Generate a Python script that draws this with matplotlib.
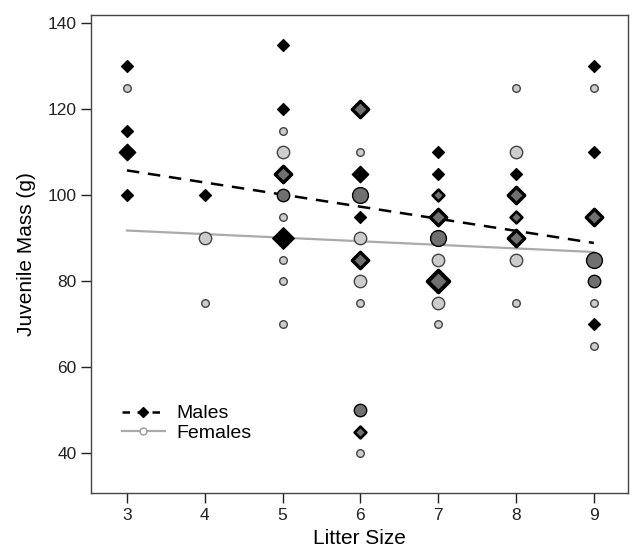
import matplotlib
matplotlib.use("Agg")
import matplotlib.pyplot as plt
from matplotlib.lines import Line2D

plt.rcParams["font.family"] = ["Liberation Sans", "DejaVu Sans"]

# litter size, juvenile mass (g), marker shape, size class, tone
litter = [3, 3, 3, 3, 3,
          4, 4, 4,
          5, 5, 5, 5, 5, 5, 5, 5, 5, 5, 5,
          6, 6, 6, 6, 6, 6, 6, 6, 6, 6, 6, 6,
          7, 7, 7, 7, 7, 7, 7, 7, 7,
          8, 8, 8, 8, 8, 8, 8, 8,
          9, 9, 9, 9, 9, 9, 9, 9, 9]
mass = [130, 125, 115, 110, 100,
        100, 90, 75,
        135, 120, 115, 110, 105, 100, 95, 90, 85, 80, 70,
        120, 110, 105, 100, 95, 90, 85, 80, 75, 50, 45, 40,
        110, 105, 100, 95, 90, 85, 80, 75, 70,
        125, 110, 105, 100, 95, 90, 85, 75,
        130, 125, 110, 95, 85, 80, 75, 70, 65]
shape = ["D", "o", "D", "D", "D",
         "D", "o", "o",
         "D", "D", "o", "o", "D", "o", "o", "D", "o", "o", "o",
         "D", "o", "D", "o", "D", "o", "D", "o", "o", "o", "D", "o",
         "D", "D", "D", "D", "o", "o", "D", "o", "o",
         "o", "o", "D", "D", "D", "D", "o", "o",
         "D", "o", "D", "D", "o", "o", "o", "D", "o"]
size_cls = [1, 1, 1, 2, 1,
            1, 2, 1,
            1, 1, 1, 2, 2, 2, 1, 3, 1, 1, 1,
            2, 1, 2, 3, 1, 2, 2, 2, 1, 2, 1, 1,
            1, 1, 1, 2, 3, 2, 3, 2, 1,
            1, 2, 1, 2, 1, 2, 2, 1,
            1, 1, 1, 2, 3, 2, 1, 1, 1]
tone = ["k", "l", "k", "k", "k",
        "k", "l", "l",
        "k", "k", "l", "l", "d", "d", "l", "k", "l", "l", "l",
        "d", "l", "k", "d", "k", "l", "d", "l", "l", "d", "d", "l",
        "k", "k", "d", "d", "d", "l", "d", "l", "l",
        "l", "l", "k", "d", "d", "d", "l", "l",
        "k", "l", "k", "d", "d", "d", "l", "k", "l"]

# fitted lines (end points)
fit_x = [3, 9]
male_fit = [105.8, 88.9]
female_fit = [91.8, 86.8]

fill = {"k": "#000000", "l": "#cccccc", "d": "#707070"}
edge = {"k": "#000000", "l": "#444444", "d": "#000000"}
dsize = {1: 36, 2: 70, 3: 120}
osize = {1: 30, 2: 80, 3: 130}

fig = plt.figure(figsize=(6.37, 5.52), dpi=100)
ax = fig.add_axes([0.143, 0.107, 0.843, 0.866])

ax.plot(fit_x, male_fit, color="black", linestyle=(0, (5, 3.5)), linewidth=1.8, zorder=2)
ax.plot(fit_x, female_fit, color="#aaaaaa", linewidth=1.6, zorder=2)

for x, y, m, s, t in zip(litter, mass, shape, size_cls, tone):
    sz = dsize[s] if m == "D" else osize[s]
    lw = 1.0
    if m == "D" and t == "d":
        lw = 1.4 + 0.5 * s
    ax.scatter([x], [y], marker=m, s=sz, c=fill[t], edgecolors=edge[t],
               linewidths=lw, zorder=3)

handles = [
    Line2D([0], [0], color="black", linestyle=(0, (3, 3)), linewidth=1.8,
           marker="D", markersize=5, markerfacecolor="black"),
    Line2D([0], [0], color="#aaaaaa", linewidth=1.6, marker="o", markersize=5,
           markerfacecolor="white", markeredgecolor="#999999"),
]
ax.legend(handles, ["Males", "Females"], loc="lower left", bbox_to_anchor=(0.025, 0.07),
          frameon=False, fontsize=14, handlelength=2.2, handletextpad=0.6,
          labelspacing=0.1)

ax.set_xlim(2.54, 9.44)
ax.set_ylim(30.7, 142)
ax.set_xticks([3, 4, 5, 6, 7, 8, 9])
ax.set_yticks([40, 60, 80, 100, 120, 140])
ax.tick_params(direction="out", length=7, width=1, labelsize=12.5, colors="#222222")
for sp in ax.spines.values():
    sp.set_color("#444444")
    sp.set_linewidth(1.0)
ax.set_xlabel("Litter Size", fontsize=15, labelpad=5)
ax.set_ylabel("Juvenile Mass (g)", fontsize=15, labelpad=8)

fig.savefig("out.png", dpi=100)
